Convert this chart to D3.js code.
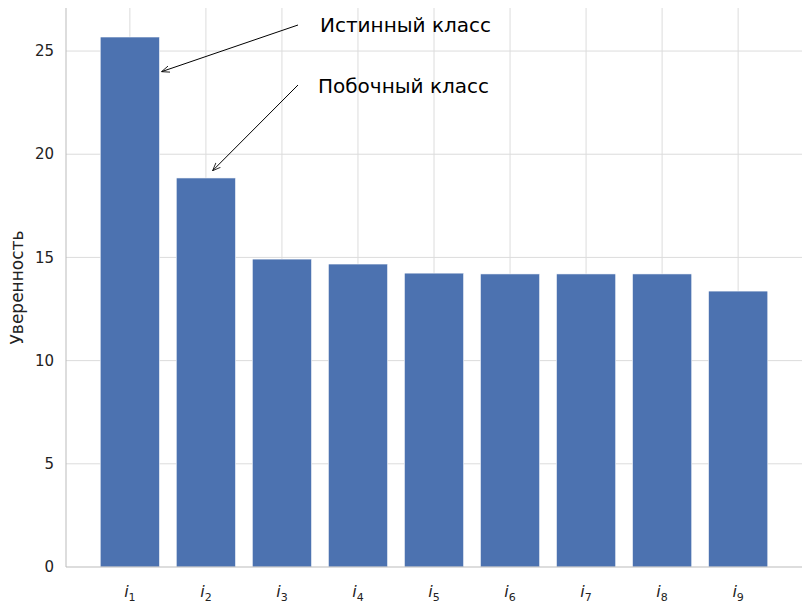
<!DOCTYPE html>
<html><head><meta charset="utf-8">
<script src="https://cdn.jsdelivr.net/npm/d3@7"></script>
<style>body{margin:0;background:#fff}text{font-family:"DejaVu Sans",Arial,sans-serif}</style>
</head><body><svg width="811" height="611"></svg>
<script>
const categories = ["1","2","3","4","5","6","7","8","9"];
const values = [25.68, 18.85, 14.92, 14.68, 14.24, 14.2, 14.2, 14.2, 13.37];
const yTicks = [0,5,10,15,20,25];
const annotations = [
  {text:"Истинный класс", idx:0, val:24.0, tx:320, ty:25, sx:298, sy:25},
  {text:"Побочный класс", idx:1, val:19.2, tx:318, ty:86, sx:298, sy:85}
];
const svg = d3.select("svg");
const L=66,R=802,T=8,B=567;
const x = d3.scaleBand().domain(categories).range([L,R]).paddingInner(0.22).paddingOuter(0.45);
const y = d3.scaleLinear().domain([0,25.68/(567-37)*(567-8)]).range([B,T]);
svg.append("defs").append("marker").attr("id","ah").attr("viewBox","0 0 10 10").attr("refX",10).attr("refY",5)
 .attr("markerWidth",8).attr("markerHeight",8).attr("orient","auto")
 .append("path").attr("d","M0,1 L10,5 L0,9").attr("fill","none").attr("stroke","#000");
const g = svg.append("g");
yTicks.forEach(t=>{ if(t>0) g.append("line").attr("x1",L).attr("x2",R).attr("y1",y(t)).attr("y2",y(t)).attr("stroke","#dcdcdc");});
categories.forEach(c=>{ g.append("line").attr("x1",x(c)+x.bandwidth()/2).attr("x2",x(c)+x.bandwidth()/2).attr("y1",T).attr("y2",B).attr("stroke","#dcdcdc");});
g.selectAll("rect").data(values).join("rect")
 .attr("x",(d,i)=>x(categories[i])).attr("width",x.bandwidth())
 .attr("y",d=>y(d)).attr("height",d=>B-y(d)).attr("fill","#4c72b0").attr("stroke","#fff").attr("stroke-width",0.6);
g.append("line").attr("x1",L).attr("x2",L).attr("y1",T).attr("y2",B).attr("stroke","#bbb");
g.append("line").attr("x1",L).attr("x2",R).attr("y1",B).attr("y2",B).attr("stroke","#bbb");
yTicks.forEach(t=>g.append("text").attr("x",L-12).attr("y",y(t)).attr("dy","0.35em").attr("text-anchor","end").attr("font-size",15).attr("fill","#222").text(t));
categories.forEach(c=>{
  const t=g.append("text").attr("x",x(c)+x.bandwidth()/2).attr("y",B+30).attr("text-anchor","middle").attr("font-size",16).attr("fill","#222");
  t.append("tspan").attr("font-style","italic").text("i");
  t.append("tspan").attr("font-size",11).attr("dy",4).text(c);
});
g.append("text").attr("transform",`translate(23,${(T+B)/2}) rotate(-90)`).attr("text-anchor","middle").attr("font-size",17).attr("fill","#222").text("Уверенность");
annotations.forEach(a=>{
  g.append("line").attr("x1",a.sx).attr("y1",a.sy).attr("x2",x(categories[a.idx])+x.bandwidth()+2-(a.idx?25:0)).attr("y2",y(a.val)).attr("stroke","#000").attr("marker-end","url(#ah)");
  g.append("text").attr("x",a.tx).attr("y",a.ty).attr("dy","0.35em").attr("font-size",20).attr("fill","#000").text(a.text);
});
</script></body></html>
